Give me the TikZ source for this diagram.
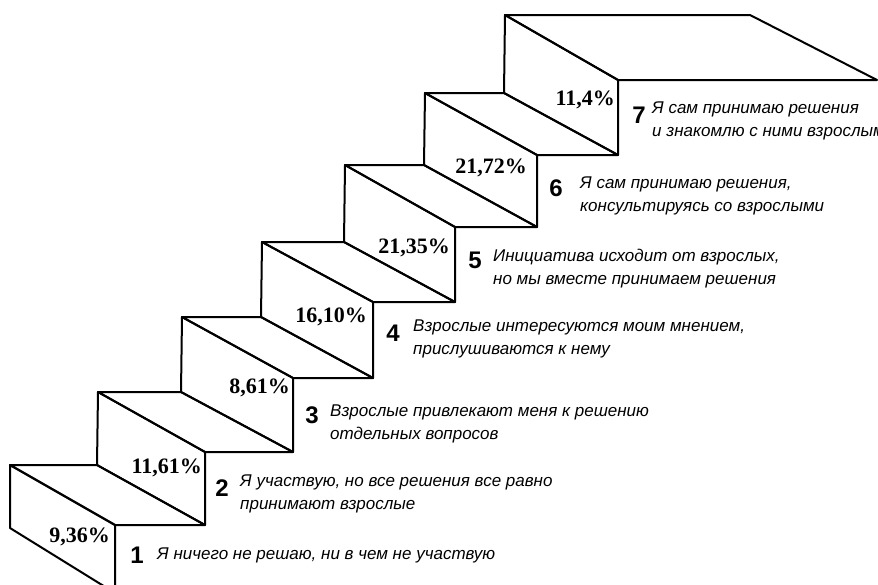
\documentclass[tikz,border=0pt]{standalone}
\usepackage{fontspec}
\setmainfont{Liberation Serif}
\setsansfont{Liberation Sans}
\usepackage{tkz-euclide}

\tikzset{
  hrana/.style={line width=2pt, line join=round, black},
  procento/.style={font=\bfseries\fontsize{22}{22}\selectfont, anchor=east, inner sep=0pt},
  cislo/.style={font=\sffamily\bfseries\fontsize{24}{24}\selectfont, inner sep=0pt},
  popis/.style={font=\sffamily\itshape\fontsize{17}{23}\selectfont, align=left, anchor=north west, inner sep=0pt}
}

\begin{document}
\begin{tikzpicture}[x=1pt,y=-1pt]
            % 1. FIXNÍ RÁMEČEK
            \useasboundingbox (0,0) rectangle (878,584);

            % --- DEFINICE BODŮ ---
            % zadní hrana stupně (A levý, B pravý roh)
            \tkzDefPoints{10/465/A1,98/392/A2,182/317/A3,262/242/A4,345/165/A5,425/93/A6,505/15/A7}
            \tkzDefPoints{97/465/B1,181/392/B2,261/317/B3,344/242/B4,424/165/B5,504/93/B6,750/15/B7}
            % přední hrana stupně (F levý, G pravý roh)
            \tkzDefPoints{115/525/F1,205/452/F2,293/378/F3,373/302/F4,455/227/F5,537/155/F6,618/80/F7}
            \tkzDefPoints{205/525/G1,293/452/G2,373/378/G3,455/302/G4,537/227/G5,618/155/G6,877/80/G7}
            % spodek prvního stupně
            \tkzDefPoints{10/528/C1,115/593/D1}

            % --- NÁŠLAPY ---
            \tkzDrawPolygon[hrana](A1,B1,G1,F1)
            \tkzDrawPolygon[hrana](A2,B2,G2,F2)
            \tkzDrawPolygon[hrana](A3,B3,G3,F3)
            \tkzDrawPolygon[hrana](A4,B4,G4,F4)
            \tkzDrawPolygon[hrana](A5,B5,G5,F5)
            \tkzDrawPolygon[hrana](A6,B6,G6,F6)
            \tkzDrawPolygon[hrana](A7,B7,G7,F7)

            % --- ČELA STUPŇŮ ---
            \tkzDrawPolygon[hrana](A1,F1,D1,C1)
            \tkzDrawPolygon[hrana](A2,F2,G1,B1)
            \tkzDrawPolygon[hrana](A3,F3,G2,B2)
            \tkzDrawPolygon[hrana](A4,F4,G3,B3)
            \tkzDrawPolygon[hrana](A5,F5,G4,B4)
            \tkzDrawPolygon[hrana](A6,F6,G5,B5)
            \tkzDrawPolygon[hrana](A7,F7,G6,B6)

            % --- PROCENTA NA ČELECH ---
            \node[procento] (p1) at (110,537) {9,36\%};
            \node[procento] (p2) at (202,468) {11,61\%};
            \node[procento] (p3) at (290,388) {8,61\%};
            \node[procento] (p4) at (367,317) {16,10\%};
            \node[procento] (p5) at (450,248) {21,35\%};
            \node[procento] (p6) at (527,168) {21,72\%};
            \node[procento] (p7) at (615,100) {11,4\%};

            % --- ČÍSLA STUPŇŮ ---
            \node[cislo] (n1) at (137,555) {1};
            \node[cislo] (n2) at (222,488) {2};
            \node[cislo] (n3) at (312,415) {3};
            \node[cislo] (n4) at (393,333) {4};
            \node[cislo] (n5) at (475,260) {5};
            \node[cislo] (n6) at (556,188) {6};
            \node[cislo] (n7) at (639,115) {7};

            % --- POPISY ---
            \node[popis] (t1) at (157,548) {Я ничего не решаю, ни в чем не участвую};
            \node[popis] (t2) at (240,475) {Я участвую, но все решения все равно\\принимают взрослые};
            \node[popis] (t3) at (330,405) {Взрослые привлекают меня к решению\\отдельных вопросов};
            \node[popis] (t4) at (413,320) {Взрослые интересуются моим мнением,\\прислушиваются к нему};
            \node[popis] (t5) at (493,249) {Инициатива исходит от взрослых,\\но мы вместе принимаем решения};
            \node[popis] (t6) at (580,177) {Я сам принимаю решения,\\консультируясь со взрослыми};
            \node[popis] (t7) at (652,102) {Я сам принимаю решения\\и знакомлю с ними взрослыми};

        \end{tikzpicture}
\end{document}
